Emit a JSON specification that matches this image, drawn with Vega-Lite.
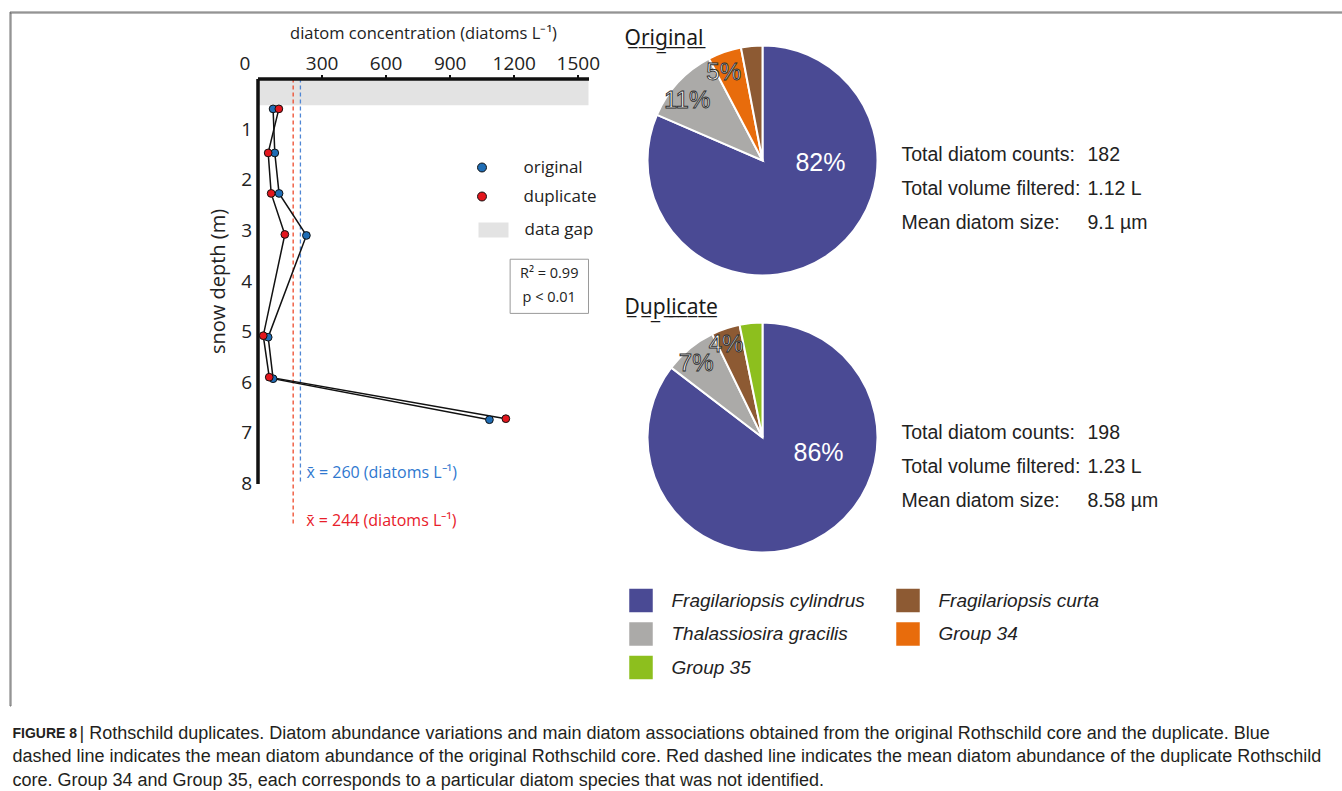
{
  "$schema": "https://vega.github.io/schema/vega-lite/v6.json",
  "padding": {"left": 8.5, "top": 10.5, "right": 0, "bottom": 0},
  "background": "white",
  "config": {"view": {"stroke": null}, "font": "Liberation Sans"},
  "datasets": {
    "profile": [
      {"series": "original", "depth": 0.60, "conc": 73},
      {"series": "original", "depth": 1.47, "conc": 81},
      {"series": "original", "depth": 2.27, "conc": 101},
      {"series": "original", "depth": 3.10, "conc": 229},
      {"series": "original", "depth": 5.11, "conc": 50},
      {"series": "original", "depth": 5.93, "conc": 73},
      {"series": "original", "depth": 6.74, "conc": 1086},
      {"series": "duplicate", "depth": 0.60, "conc": 100},
      {"series": "duplicate", "depth": 1.47, "conc": 50},
      {"series": "duplicate", "depth": 2.27, "conc": 64},
      {"series": "duplicate", "depth": 3.08, "conc": 128},
      {"series": "duplicate", "depth": 5.08, "conc": 27},
      {"series": "duplicate", "depth": 5.90, "conc": 55},
      {"series": "duplicate", "depth": 6.72, "conc": 1163}
    ],
    "means": [
      {"series": "original", "mean": 260, "mean_line": 201, "label": "x̄ = 260 (diatoms L⁻¹)"},
      {"series": "duplicate", "mean": 244, "mean_line": 167, "label": "x̄ = 244 (diatoms L⁻¹)"}
    ],
    "gap": [{"series": "data gap", "depth_from": 0, "depth_to": 0.53}],
    "pies": [
      {"sample": "Original", "taxon": "Fragilariopsis cylindrus", "pct": 81.5, "label": "82%"},
      {"sample": "Original", "taxon": "Thalassiosira gracilis", "pct": 10.8, "label": "11%"},
      {"sample": "Original", "taxon": "Group 34", "pct": 4.7, "label": "5%"},
      {"sample": "Original", "taxon": "Fragilariopsis curta", "pct": 3.0, "label": ""},
      {"sample": "Duplicate", "taxon": "Fragilariopsis cylindrus", "pct": 85.4, "label": "86%"},
      {"sample": "Duplicate", "taxon": "Thalassiosira gracilis", "pct": 7.4, "label": "7%"},
      {"sample": "Duplicate", "taxon": "Fragilariopsis curta", "pct": 4.0, "label": "4%"},
      {"sample": "Duplicate", "taxon": "Group 35", "pct": 3.2, "label": ""}
    ],
    "stats": [
      {"sample": "Original", "stat": "Total diatom counts:", "value": "182"},
      {"sample": "Original", "stat": "Total volume filtered:", "value": "1.12 L"},
      {"sample": "Original", "stat": "Mean diatom size:", "value": "9.1 µm"},
      {"sample": "Duplicate", "stat": "Total diatom counts:", "value": "198"},
      {"sample": "Duplicate", "stat": "Total volume filtered:", "value": "1.23 L"},
      {"sample": "Duplicate", "stat": "Mean diatom size:", "value": "8.58 µm"}
    ],
    "caption": [
      {"line": 1, "head": "FIGURE 8", "text": "| Rothschild duplicates. Diatom abundance variations and main diatom associations obtained from the original Rothschild core and the duplicate. Blue"},
      {"line": 2, "head": "", "text": "dashed line indicates the mean diatom abundance of the original Rothschild core. Red dashed line indicates the mean diatom abundance of the duplicate Rothschild"},
      {"line": 3, "head": "", "text": "core. Group 34 and Group 35, each corresponds to a particular diatom species that was not identified."}
    ]
  },
  "bounds": "flush",
  "spacing": 0,
  "resolve": {"scale": {"color": "independent", "fill": "independent", "theta": "independent"}, "legend": {"color": "independent", "fill": "independent"}},
  "vconcat": [
    {"width": 1334, "height": 1, "view": {"stroke": "#707070", "strokeWidth": 1}, "data": {"values": []}, "mark": "point"},
    {
      "hconcat": [
        {"width": 1, "height": 693, "view": {"stroke": "#707070", "strokeWidth": 1}, "data": {"values": []}, "mark": "point"},
        {"width": 247, "height": 1, "data": {"values": []}, "mark": "point"},
        {
          "vconcat": [
            {"width": 1, "height": 66, "data": {"values": []}, "mark": "point"},
            {
              "width": 331,
              "height": 405,
              "layer": [
                {
                  "data": {"name": "gap"},
                  "mark": {"type": "rect"},
                  "encoding": {
                    "x": {"datum": 0, "type": "quantitative", "scale": {"domain": [0, 1550], "nice": false, "zero": false}},
                    "x2": {"datum": 1550},
                    "y": {"field": "depth_from", "type": "quantitative", "scale": {"domain": [0, 8], "nice": false, "zero": false, "reverse": true}},
                    "y2": {"field": "depth_to"},
                    "fill": {
                      "field": "series", "type": "nominal",
                      "scale": {"domain": ["data gap"], "range": ["#e3e3e3"]},
                      "legend": {
                        "orient": "none", "legendX": 221, "legendY": 202.5, "title": null, "padding": 0,
                        "symbolType": "M-1,-0.5H1V0.5H-1Z", "symbolSize": 900, "symbolStrokeWidth": 0,
                        "labelFont": "Open Sans", "labelFontSize": 17, "labelColor": "#222222", "labelOffset": 16
                      }
                    }
                  }
                },
                {
                  "data": {"name": "means"},
                  "transform": [{"filter": "datum.series === 'original'"}],
                  "mark": {"type": "rule", "color": "#4f86d4", "strokeDash": [4, 3], "strokeWidth": 1.3},
                  "encoding": {
                    "x": {"field": "mean_line", "type": "quantitative", "scale": {"domain": [0, 1550], "nice": false, "zero": false}},
                    "y": {"datum": 0, "type": "quantitative", "scale": {"domain": [0, 8], "nice": false, "zero": false, "reverse": true}},
                    "y2": {"datum": 8}
                  }
                },
                {
                  "data": {"name": "means"},
                  "transform": [{"filter": "datum.series === 'duplicate'"}],
                  "mark": {"type": "rule", "color": "#ee4a2b", "strokeDash": [4, 3], "strokeWidth": 1.3},
                  "encoding": {
                    "x": {"field": "mean_line", "type": "quantitative", "scale": {"domain": [0, 1550], "nice": false, "zero": false}},
                    "y": {"datum": 0, "type": "quantitative", "scale": {"domain": [0, 8], "nice": false, "zero": false, "reverse": true}},
                    "y2": {"datum": 8.83}
                  }
                },
                {
                  "data": {"name": "profile"},
                  "mark": {"type": "line", "color": "#111111", "strokeWidth": 1.5},
                  "encoding": {
                    "x": {"field": "conc", "type": "quantitative", "scale": {"domain": [0, 1550], "nice": false, "zero": false}},
                    "y": {"field": "depth", "type": "quantitative", "scale": {"domain": [0, 8], "nice": false, "zero": false, "reverse": true}},
                    "detail": {"field": "series"},
                    "order": {"field": "depth"}
                  }
                },
                {
                  "data": {"name": "profile"},
                  "mark": {"type": "circle", "size": 60, "opacity": 1, "stroke": "#111111", "strokeWidth": 1},
                  "encoding": {
                    "x": {
                      "field": "conc", "type": "quantitative",
                      "scale": {"domain": [0, 1550], "nice": false, "zero": false},
                      "axis": {
                        "orient": "top", "values": [0, 300, 600, 900, 1200, 1500], "format": "d",
                        "title": "diatom concentration (diatoms L⁻¹)",
                        "titleFont": "Open Sans", "titleFontSize": 16.5, "titleFontWeight": "normal", "titleColor": "#222222", "titlePadding": 13,
                        "labelFont": "Open Sans", "labelFontSize": 19, "labelColor": "#222222", "labelPadding": 1,
                        "labelFlush": false, "labelOverlap": false, "labelBound": false,
                        "labelOffset": {"condition": {"test": "datum.value === 0", "value": -13}, "value": 0},
                        "tickOpacity": {"condition": {"test": "datum.value === 0", "value": 0}, "value": 1},
                        "tickSize": 4, "tickWidth": 2, "tickColor": "#111111",
                        "domainColor": "#111111", "domainWidth": 3.5, "grid": false, "zindex": 1
                      }
                    },
                    "y": {
                      "field": "depth", "type": "quantitative",
                      "scale": {"domain": [0, 8], "nice": false, "zero": false, "reverse": true},
                      "axis": {
                        "orient": "left", "values": [1, 2, 3, 4, 5, 6, 7, 8],
                        "title": "snow depth (m)",
                        "titleFont": "Open Sans", "titleFontSize": 20, "titleFontWeight": "normal", "titleColor": "#222222", "titlePadding": 12,
                        "labelFont": "Open Sans", "labelFontSize": 19, "labelColor": "#222222", "labelPadding": 6,
                        "labelFlush": false, "labelOverlap": false, "labelBound": false,
                        "ticks": false, "tickSize": 0,
                        "domainColor": "#111111", "domainWidth": 3.5, "grid": false, "zindex": 1
                      }
                    },
                    "color": {
                      "field": "series", "type": "nominal",
                      "scale": {"domain": ["original", "duplicate"], "range": ["#1f6db5", "#e3161d"]},
                      "legend": {
                        "orient": "none", "legendX": 216, "legendY": 146.5, "title": null, "padding": 0,
                        "symbolType": "circle", "symbolSize": 80, "symbolStrokeWidth": 1, "symbolStrokeColor": "#111111",
                        "labelFont": "Open Sans", "labelFontSize": 17, "labelColor": "#222222", "labelOffset": 33,
                        "rowPadding": 11
                      }
                    }
                  }
                },
                {
                  "data": {"name": "means"},
                  "transform": [{"filter": "datum.series === 'original'"}],
                  "mark": {"type": "text", "align": "left", "baseline": "middle", "dx": 6, "font": "Open Sans", "fontSize": 16, "color": "#2f78cf"},
                  "encoding": {
                    "x": {"field": "mean_line", "type": "quantitative", "scale": {"domain": [0, 1550], "nice": false, "zero": false}},
                    "y": {"datum": 7.8, "type": "quantitative", "scale": {"domain": [0, 8], "nice": false, "zero": false, "reverse": true}},
                    "text": {"field": "label"}
                  }
                },
                {
                  "data": {"name": "means"},
                  "transform": [{"filter": "datum.series === 'duplicate'"}],
                  "mark": {"type": "text", "align": "left", "baseline": "middle", "dx": 13, "font": "Open Sans", "fontSize": 16, "color": "#e8202a"},
                  "encoding": {
                    "x": {"field": "mean_line", "type": "quantitative", "scale": {"domain": [0, 1550], "nice": false, "zero": false}},
                    "y": {"datum": 8.75, "type": "quantitative", "scale": {"domain": [0, 8], "nice": false, "zero": false, "reverse": true}},
                    "text": {"field": "label"}
                  }
                },
                {
                  "data": {"values": [{}]},
                  "mark": {"type": "rect", "fill": "#ffffff", "stroke": "#9a9a9a", "strokeWidth": 1},
                  "encoding": {
                    "x": {"datum": 1183, "type": "quantitative", "scale": {"domain": [0, 1550], "nice": false, "zero": false}},
                    "x2": {"datum": 1550},
                    "y": {"datum": 3.57, "type": "quantitative", "scale": {"domain": [0, 8], "nice": false, "zero": false, "reverse": true}},
                    "y2": {"datum": 4.64}
                  }
                },
                {
                  "data": {"values": [{}]},
                  "mark": {"type": "text", "align": "center", "baseline": "middle", "font": "Open Sans", "fontSize": 14.5, "lineHeight": 24, "color": "#222222"},
                  "encoding": {
                    "x": {"datum": 1366, "type": "quantitative", "scale": {"domain": [0, 1550], "nice": false, "zero": false}},
                    "y": {"datum": 3.87, "type": "quantitative", "scale": {"domain": [0, 8], "nice": false, "zero": false, "reverse": true}},
                    "text": {"value": ["R² = 0.99", "p  < 0.01"]}
                  }
                }
              ]
            }
          ],
          "spacing": 0,
          "bounds": "flush"
        },
        {"width": 390, "height": 1, "data": {"values": []}, "mark": "point"},
        {
          "hconcat": [
            {
              "vconcat": [
                {"width": 1, "height": 33, "data": {"values": []}, "mark": "point"},
                {
                  "width": 230, "height": 230,
                  "data": {"name": "pies"},
                  "transform": [{"filter": "datum.sample === 'Original'"}],
                  "title": {"text": "O̲r̲i̲g̲i̲n̲a̲l̲", "anchor": "start", "frame": "group", "baseline": "alphabetic", "offset": -24, "dx": -23, "font": "Noto Sans, DejaVu Sans", "fontSize": 21, "fontWeight": "normal", "color": "#1a1a1a"},
                  "encoding": {
                    "theta": {"field": "pct", "type": "quantitative", "stack": true},
                    "order": {"field": "pct", "sort": "descending"}
                  },
                  "layer": [
                    {
                      "mark": {"type": "arc", "outerRadius": 115, "stroke": "#ffffff", "strokeWidth": 2},
                      "encoding": {
                        "color": {
                          "field": "taxon", "type": "nominal",
                          "scale": {"domain": ["Fragilariopsis cylindrus", "Thalassiosira gracilis", "Group 35", "Fragilariopsis curta", "Group 34"], "range": ["#4a4a94", "#abaaa8", "#8dbf1e", "#8d5a33", "#e86c0c"]},
                          "legend": {
                            "orient": "none", "legendX": -20, "legendY": 574.5, "columns": 2, "title": null, "padding": 0,
                            "symbolType": "square", "symbolSize": 625, "symbolStrokeWidth": 1.5, "symbolStrokeColor": "#3a3a3a",
                            "labelFont": "Liberation Sans", "labelFontStyle": "italic", "labelFontSize": 19, "labelColor": "#222222",
                            "labelOffset": 17, "labelLimit": 400, "rowPadding": 2.5, "columnPadding": 27
                          }
                        }
                      }
                    },
                    {
                      "mark": {"type": "text", "radius": 58, "thetaOffset": -0.955, "font": "Liberation Sans", "fontSize": 25, "fill": "#ffffff", "align": "center", "baseline": "middle"},
                      "encoding": {"text": {"condition": {"test": "datum.pct > 50", "field": "label"}, "value": ""}}
                    },
                    {
                      "mark": {"type": "text", "radius": 96, "thetaOffset": -0.08, "font": "Liberation Sans", "fontSize": 24, "fill": "#ffffff", "stroke": "#2a2a2a", "strokeWidth": 0.9, "align": "center", "baseline": "middle"},
                      "encoding": {"text": {"condition": {"test": "datum.pct < 50", "field": "label"}, "value": ""}}
                    }
                  ]
                },
                {"width": 1, "height": 47, "data": {"values": []}, "mark": "point"},
                {
                  "width": 230, "height": 230,
                  "data": {"name": "pies"},
                  "transform": [{"filter": "datum.sample === 'Duplicate'"}],
                  "title": {"text": "D̲u̲p̲l̲i̲c̲a̲t̲e̲", "anchor": "start", "frame": "group", "baseline": "alphabetic", "offset": -16, "dx": -23, "font": "Noto Sans, DejaVu Sans", "fontSize": 21, "fontWeight": "normal", "color": "#1a1a1a"},
                  "encoding": {
                    "theta": {"field": "pct", "type": "quantitative", "stack": true},
                    "order": {"field": "pct", "sort": "descending"}
                  },
                  "layer": [
                    {
                      "mark": {"type": "arc", "outerRadius": 115, "stroke": "#ffffff", "strokeWidth": 2},
                      "encoding": {
                        "color": {
                          "field": "taxon", "type": "nominal",
                          "scale": {"domain": ["Fragilariopsis cylindrus", "Thalassiosira gracilis", "Group 35", "Fragilariopsis curta", "Group 34"], "range": ["#4a4a94", "#abaaa8", "#8dbf1e", "#8d5a33", "#e86c0c"]}
                        }
                      }
                    },
                    {
                      "mark": {"type": "text", "radius": 58, "thetaOffset": -0.85, "font": "Liberation Sans", "fontSize": 25, "fill": "#ffffff", "align": "center", "baseline": "middle"},
                      "encoding": {"text": {"condition": {"test": "datum.pct > 50", "field": "label"}, "value": ""}}
                    },
                    {
                      "mark": {"type": "text", "radius": 99, "thetaOffset": -0.05, "font": "Liberation Sans", "fontSize": 24, "fill": "#ffffff", "stroke": "#2a2a2a", "strokeWidth": 0.9, "align": "center", "baseline": "middle"},
                      "encoding": {"text": {"condition": {"test": "datum.pct < 50", "field": "label"}, "value": ""}}
                    }
                  ]
                }
              ],
              "spacing": 0,
              "bounds": "flush"
            },
            {"width": 254, "height": 1, "data": {"values": []}, "mark": "point"},
            {
              "vconcat": [
                {"width": 1, "height": 142, "data": {"values": []}, "mark": "point"},
                {
                  "width": 186, "height": 68.5,
                  "data": {"name": "stats"},
                  "transform": [{"filter": "datum.sample === 'Original'"}, {"fold": ["stat", "value"], "as": ["col", "txt"]}],
                  "mark": {"type": "text", "align": "left", "baseline": "middle", "font": "Liberation Sans", "fontSize": 19.5, "color": "#222222"},
                  "encoding": {
                    "x": {"field": "col", "type": "nominal", "scale": {"type": "point", "domain": ["stat", "value"], "padding": 0}, "axis": null},
                    "y": {"field": "stat", "type": "nominal", "sort": ["Total diatom counts:", "Total volume filtered:", "Mean diatom size:"], "scale": {"type": "point", "padding": 0}, "axis": null},
                    "text": {"field": "txt"}
                  }
                },
                {"width": 1, "height": 208.5, "data": {"values": []}, "mark": "point"},
                {
                  "width": 186, "height": 68,
                  "data": {"name": "stats"},
                  "transform": [{"filter": "datum.sample === 'Duplicate'"}, {"fold": ["stat", "value"], "as": ["col", "txt"]}],
                  "mark": {"type": "text", "align": "left", "baseline": "middle", "font": "Liberation Sans", "fontSize": 19.5, "color": "#222222"},
                  "encoding": {
                    "x": {"field": "col", "type": "nominal", "scale": {"type": "point", "domain": ["stat", "value"], "padding": 0}, "axis": null},
                    "y": {"field": "stat", "type": "nominal", "sort": ["Total diatom counts:", "Total volume filtered:", "Mean diatom size:"], "scale": {"type": "point", "padding": 0}, "axis": null},
                    "text": {"field": "txt"}
                  }
                }
              ],
              "spacing": 0,
              "bounds": "flush"
            }
          ],
          "spacing": 0,
          "bounds": "flush"
        }
      ],
      "spacing": 0,
      "bounds": "flush",
      "resolve": {"scale": {"color": "independent", "fill": "independent"}, "legend": {"color": "independent", "fill": "independent"}}
    },
    {"width": 1, "height": 721, "data": {"values": []}, "mark": "point"},
    {
      "width": 6, "height": 47,
      "data": {"name": "caption"},
      "layer": [
        {
          "transform": [{"filter": "datum.line === 1"}],
          "mark": {"type": "text", "align": "left", "baseline": "middle", "font": "Liberation Sans", "fontSize": 14, "fontWeight": "bold", "color": "#231f20"},
          "encoding": {
            "y": {"field": "line", "type": "ordinal", "scale": {"type": "point", "padding": 0}, "axis": null},
            "text": {"field": "head"}
          }
        },
        {
          "transform": [{"filter": "datum.line === 1"}],
          "mark": {"type": "text", "align": "left", "baseline": "middle", "dx": 67, "font": "Liberation Sans", "fontSize": 18, "color": "#231f20"},
          "encoding": {
            "y": {"field": "line", "type": "ordinal", "scale": {"type": "point", "padding": 0}, "axis": null},
            "text": {"field": "text"}
          }
        },
        {
          "transform": [{"filter": "datum.line > 1"}],
          "mark": {"type": "text", "align": "left", "baseline": "middle", "font": "Liberation Sans", "fontSize": 18, "color": "#231f20"},
          "encoding": {
            "y": {"field": "line", "type": "ordinal", "scale": {"type": "point", "padding": 0}, "axis": null},
            "text": {"field": "text"}
          }
        }
      ]
    }
  ]
}
